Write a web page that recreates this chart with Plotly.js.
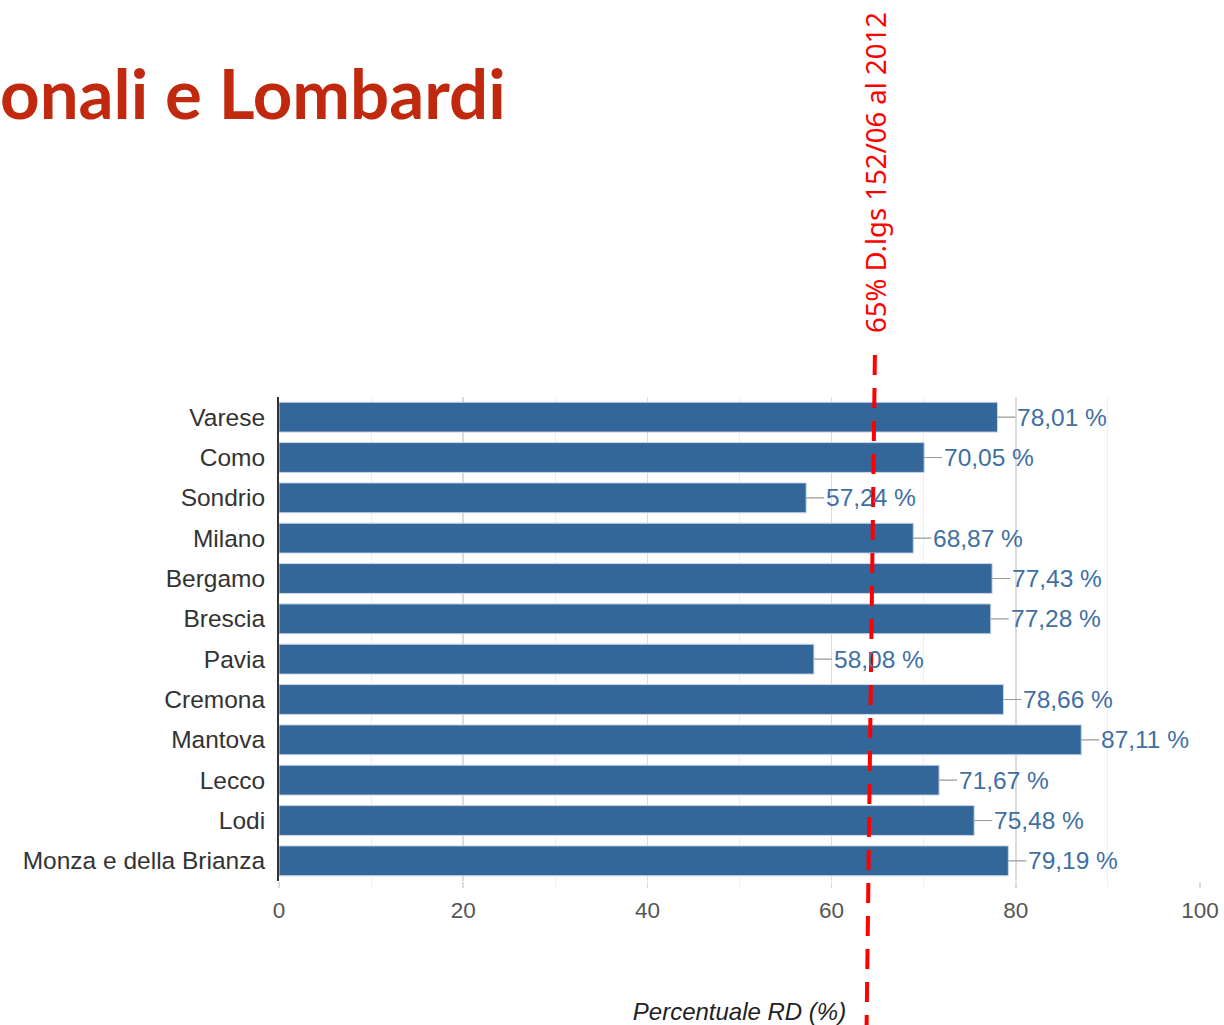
<!DOCTYPE html>
<html>
<head>
<meta charset="utf-8">
<script src="https://cdn.plot.ly/plotly-3.0.1.min.js"></script>
<style>html,body{margin:0;padding:0;background:#fff;}#chart{width:1224px;height:1025px;}</style>
</head>
<body>
<div id="chart"></div>
<script>
const provinces = ["Varese","Como","Sondrio","Milano","Bergamo","Brescia","Pavia","Cremona","Mantova","Lecco","Lodi","Monza e della Brianza"];
const rdPercent = [78.01,70.05,57.24,68.87,77.43,77.28,58.08,78.66,87.11,71.67,75.48,79.19];
const xTicks = [0,20,40,60,80,100];
const thresholdLabel = "65% D.lgs 152/06 al 2012";
const thresholdTop = 64.7;
const thresholdBottom = 63.8;
const titleText = "onali e Lombardi";
const axisTitle = "Percentuale RD (%)";

const fmt = v => v.toFixed(2).replace('.', ',') + ' %';

const trace = {
  type: 'bar',
  orientation: 'h',
  y: provinces,
  x: rdPercent,
  width: 0.74,
  marker: {color: '#336699', line: {color: '#c7d6e6', width: 1}},
  hoverinfo: 'none'
};

const annotations = provinces.map((p, i) => ({
  x: rdPercent[i], y: p, xref: 'x', yref: 'y',
  text: fmt(rdPercent[i]),
  showarrow: true, arrowhead: 0, arrowwidth: 1.2, arrowcolor: '#999999',
  ax: 18, ay: 0, xanchor: 'left', yanchor: 'middle',
  font: {family: 'Liberation Sans, Arial, sans-serif', size: 24.5, color: '#3f6fa3'},
  standoff: 0, startstandoff: 0
}));

annotations.push({
  text: thresholdLabel, xref: 'x', yref: 'paper', x: thresholdTop, y: 1 + (397-172)/484,
  textangle: -90, xanchor: 'center', yanchor: 'middle', showarrow: false,
  font: {family: 'Noto Sans, sans-serif', size: 27.5, color: '#ff0000'}
});

const layout = {
  width: 1224, height: 1025,
  margin: {l: 279, r: 24, t: 397, b: 144},
  paper_bgcolor: '#ffffff', plot_bgcolor: '#ffffff',
  showlegend: false,
  font: {family: 'Liberation Sans, Arial, sans-serif'},
  title: {
    text: titleText, xref: 'container', yref: 'container',
    x: 0, xanchor: 'left', y: 1 - 95/1025, yanchor: 'middle',
    pad: {l: 0, r: 0, t: 0, b: 0},
    font: {family: 'Lato, sans-serif', size: 69, color: '#c0290e', weight: 'bold'}
  },
  xaxis: {
    range: [0, 100],
    tickvals: xTicks,
    tickfont: {size: 22.5, color: '#555555'},
    showgrid: true, gridcolor: '#dcdcdc', gridwidth: 1.5,
    minor: {dtick: 10, showgrid: true, gridcolor: '#eeeeee', gridwidth: 1,
            ticks: 'outside', ticklen: 5, tickcolor: '#eeeeee', tickwidth: 1},
    zeroline: false, showline: false,
    ticks: 'outside', ticklen: 6, tickcolor: '#dcdcdc', tickwidth: 1.5,
    ticklabelstandoff: 3,
    title: {text: axisTitle, font: {size: 24, color: '#222222', style: 'italic'}, standoff: 88}
  },
  yaxis: {
    autorange: 'reversed',
    tickfont: {size: 24.5, color: '#333333'},
    showline: true, linecolor: '#333333', linewidth: 2,
    showgrid: false, zeroline: false, ticks: '', ticklabelstandoff: 7
  },
  shapes: [{
    type: 'line', xref: 'x', yref: 'paper',
    x0: thresholdTop, y0: 1 + (397-355)/484,
    x1: thresholdBottom, y1: -(1025-881)/484,
    line: {color: '#ff0000', width: 4, dash: '20px,13px'}
  }],
  annotations: annotations
};

Plotly.newPlot('chart', [trace], layout, {displayModeBar: false, staticPlot: true});
</script>
</body>
</html>
